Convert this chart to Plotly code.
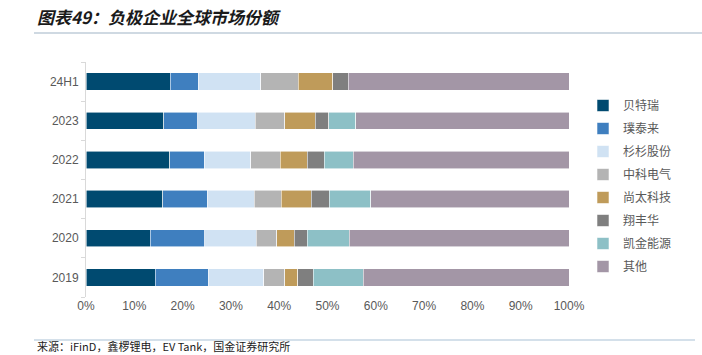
import plotly.graph_objects as go

categories = ["2019", "2020", "2021", "2022", "2023", "24H1"]
companies = ["贝特瑞", "璞泰来", "杉杉股份", "中科电气", "尚太科技", "翔丰华", "凯金能源", "其他"]

# shares in %, ordered as categories (2019 ... 24H1)
s_btr = [14.3, 13.3, 15.9, 17.3, 16.1, 17.4]
s_ptl = [11.0, 11.3, 9.2, 7.2, 7.0, 5.8]
s_ss = [11.5, 10.6, 9.7, 9.6, 11.9, 13.0]
s_zk = [4.3, 4.3, 5.6, 6.1, 6.1, 7.7]
s_st = [2.7, 3.6, 6.2, 5.6, 6.4, 7.2]
s_xfh = [3.2, 2.7, 3.8, 3.5, 2.8, 3.2]
s_kj = [10.4, 8.7, 8.6, 6.0, 5.5, 0.0]
s_other = [42.6, 45.5, 41.0, 44.7, 44.2, 45.7]

series = [s_btr, s_ptl, s_ss, s_zk, s_st, s_xfh, s_kj, s_other]
colors = ["#004A70", "#3F7FBF", "#D0E2F3", "#B4B4B4", "#BF9B5A", "#7F7F7F", "#8DC0C6", "#A396A6"]

fig = go.Figure()
for name, vals, col in zip(companies, series, colors):
    fig.add_trace(go.Bar(
        y=categories, x=vals, name=name, orientation="h",
        marker=dict(color=col, line=dict(color="rgba(255,255,255,0.7)", width=0.8)),
        legendgroup=name,
    ))

L, R, T, B = 86, 133, 62, 58
W, H = 702, 355
pw, ph = W - L - R, H - T - B

def px_x(p):
    return (p - L) / pw

def px_y(p):
    return (H - B - p) / ph

fig.update_layout(
    width=W, height=H,
    margin=dict(l=L, r=R, t=T, b=B, autoexpand=False),
    barmode="stack", bargap=0.56,
    plot_bgcolor="white", paper_bgcolor="white",
    font=dict(family="Liberation Sans, Noto Sans CJK SC", size=12, color="#595959"),
    xaxis=dict(range=[0, 100], tickvals=[0, 10, 20, 30, 40, 50, 60, 70, 80, 90, 100],
               ticktext=["0%", "10%", "20%", "30%", "40%", "50%", "60%", "70%", "80%", "90%", "100%"],
               showgrid=False, zeroline=False, showline=False, ticks="",
               automargin=False,
               tickfont=dict(size=12, color="#595959")),
    yaxis=dict(showgrid=False, zeroline=False, showline=True, linecolor="#D9D9D9", linewidth=1,
               ticks="outside", ticklen=4, tickcolor="#D9D9D9", tickson="boundaries",
               ticklabelstandoff=4, automargin=False,
               tickfont=dict(size=12, color="#595959"), range=[-0.5, 5.5]),
    legend=dict(x=583 / W, y=1 - 91 / H, xanchor="left", yanchor="top",
                xref="container", yref="container", maxheight=300,
                traceorder="grouped", tracegroupgap=4, itemwidth=30,
                font=dict(family="Noto Sans CJK SC", size=12, color="#595959"),
                bgcolor="rgba(0,0,0,0)"),
    title=dict(text="<b><i>图表49：负极企业全球市场份额</i></b>",
               x=37 / W, xanchor="left", y=1 - 18 / H, yanchor="middle",
               xref="container", yref="container", pad=dict(l=0, r=0, t=0, b=0),
               font=dict(family="Noto Sans CJK SC", size=17, color="#1A1A1A")),
    showlegend=True,
)

fig.add_shape(type="line", xref="paper", yref="paper",
              x0=px_x(34), x1=px_x(702), y0=px_y(33), y1=px_y(33),
              line=dict(color="#9FB3C5", width=1.2))
fig.add_shape(type="line", xref="paper", yref="paper",
              x0=px_x(34), x1=px_x(695), y0=px_y(340), y1=px_y(340),
              line=dict(color="#A9C2D6", width=1.2))
fig.add_annotation(text="来源：iFinD，鑫椤锂电，EV Tank，国金证券研究所",
                   xref="paper", yref="paper", x=px_x(35), y=px_y(356),
                   xanchor="left", yanchor="bottom", showarrow=False,
                   font=dict(family="Noto Sans CJK SC", size=11, color="#1A1A1A"))

fig.write_html("out.html", config={"displayModeBar": False},
               post_script="document.body.style.margin='0';")
